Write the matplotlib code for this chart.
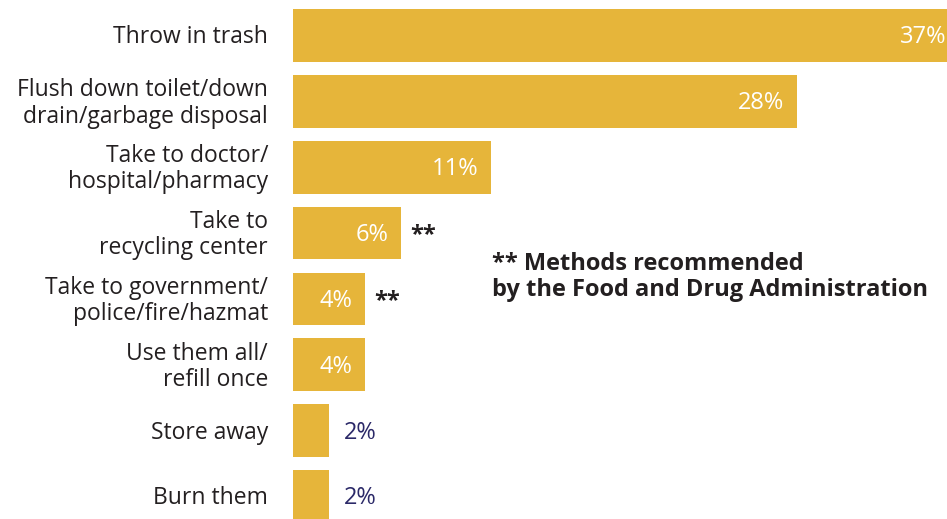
import matplotlib.pyplot as plt
from matplotlib import transforms

# Datos
categories = ['Throw in trash', 'Flush down toilet/down\ndrain/garbage disposal',
              'Take to doctor/\nhospital/pharmacy', 'Take to\nrecycling center',
              'Take to government/\npolice/fire/hazmat', 'Use them all/\nrefill once',
              'Store away', 'Burn them']
values = [37, 28, 11, 6, 4, 4, 2, 2]
value_labels = ['37%', '28%', '11%', '6%', '4%', '4%', '2%', '2%']
recommended = [False, False, False, True, True, False, False, False]

bar_color = '#E6B53A'
text_color = '#231F20'
navy = '#2B2968'

fig = plt.figure(figsize=(9.47, 5.19), dpi=100)
ax = fig.add_axes([293 / 947, 0, 1 - 293 / 947, 1])
plt.rcParams['font.family'] = ['Open Sans', 'DejaVu Sans']

y = list(range(len(categories)))
ax.barh(y, values, height=0.8, color=bar_color)
ax.set_xlim(0, 36.33)
ax.set_ylim(7.342, -0.539)
ax.axis('off')

px = transforms.ScaledTranslation
dy = -2 / 100  # bajar un poco el texto
for i, (v, lab) in enumerate(zip(values, value_labels)):
    if v >= 4:
        off = px(-13 / 100, dy, fig.dpi_scale_trans)
        ax.text(v, i, lab, ha='right', va='center', color='white',
                fontsize=17, transform=ax.transData + off, clip_on=False)
    else:
        off = px(15 / 100, dy, fig.dpi_scale_trans)
        ax.text(v, i, lab, ha='left', va='center', color=navy,
                fontsize=17, transform=ax.transData + off)
    if recommended[i]:
        off = px(9 / 100, dy, fig.dpi_scale_trans)
        ax.text(v, i, '**', ha='left', va='center', color=text_color,
                fontsize=17, fontweight='bold', transform=ax.transData + off)

# Etiquetas de categorías
for i, cat in enumerate(categories):
    off = px(-25 / 100, dy, fig.dpi_scale_trans)
    ax.text(0, i, cat, ha='right', va='center', color=text_color, fontsize=16.5,
            linespacing=1.13, transform=ax.transData + off)

fig.text(492 / 947, 1 - 277 / 519, '** Methods recommended\nby the Food and Drug Administration',
         ha='left', va='center', fontsize=17, fontweight='bold', color=text_color,
         linespacing=1.1)

fig.savefig('out.png', dpi=100)
